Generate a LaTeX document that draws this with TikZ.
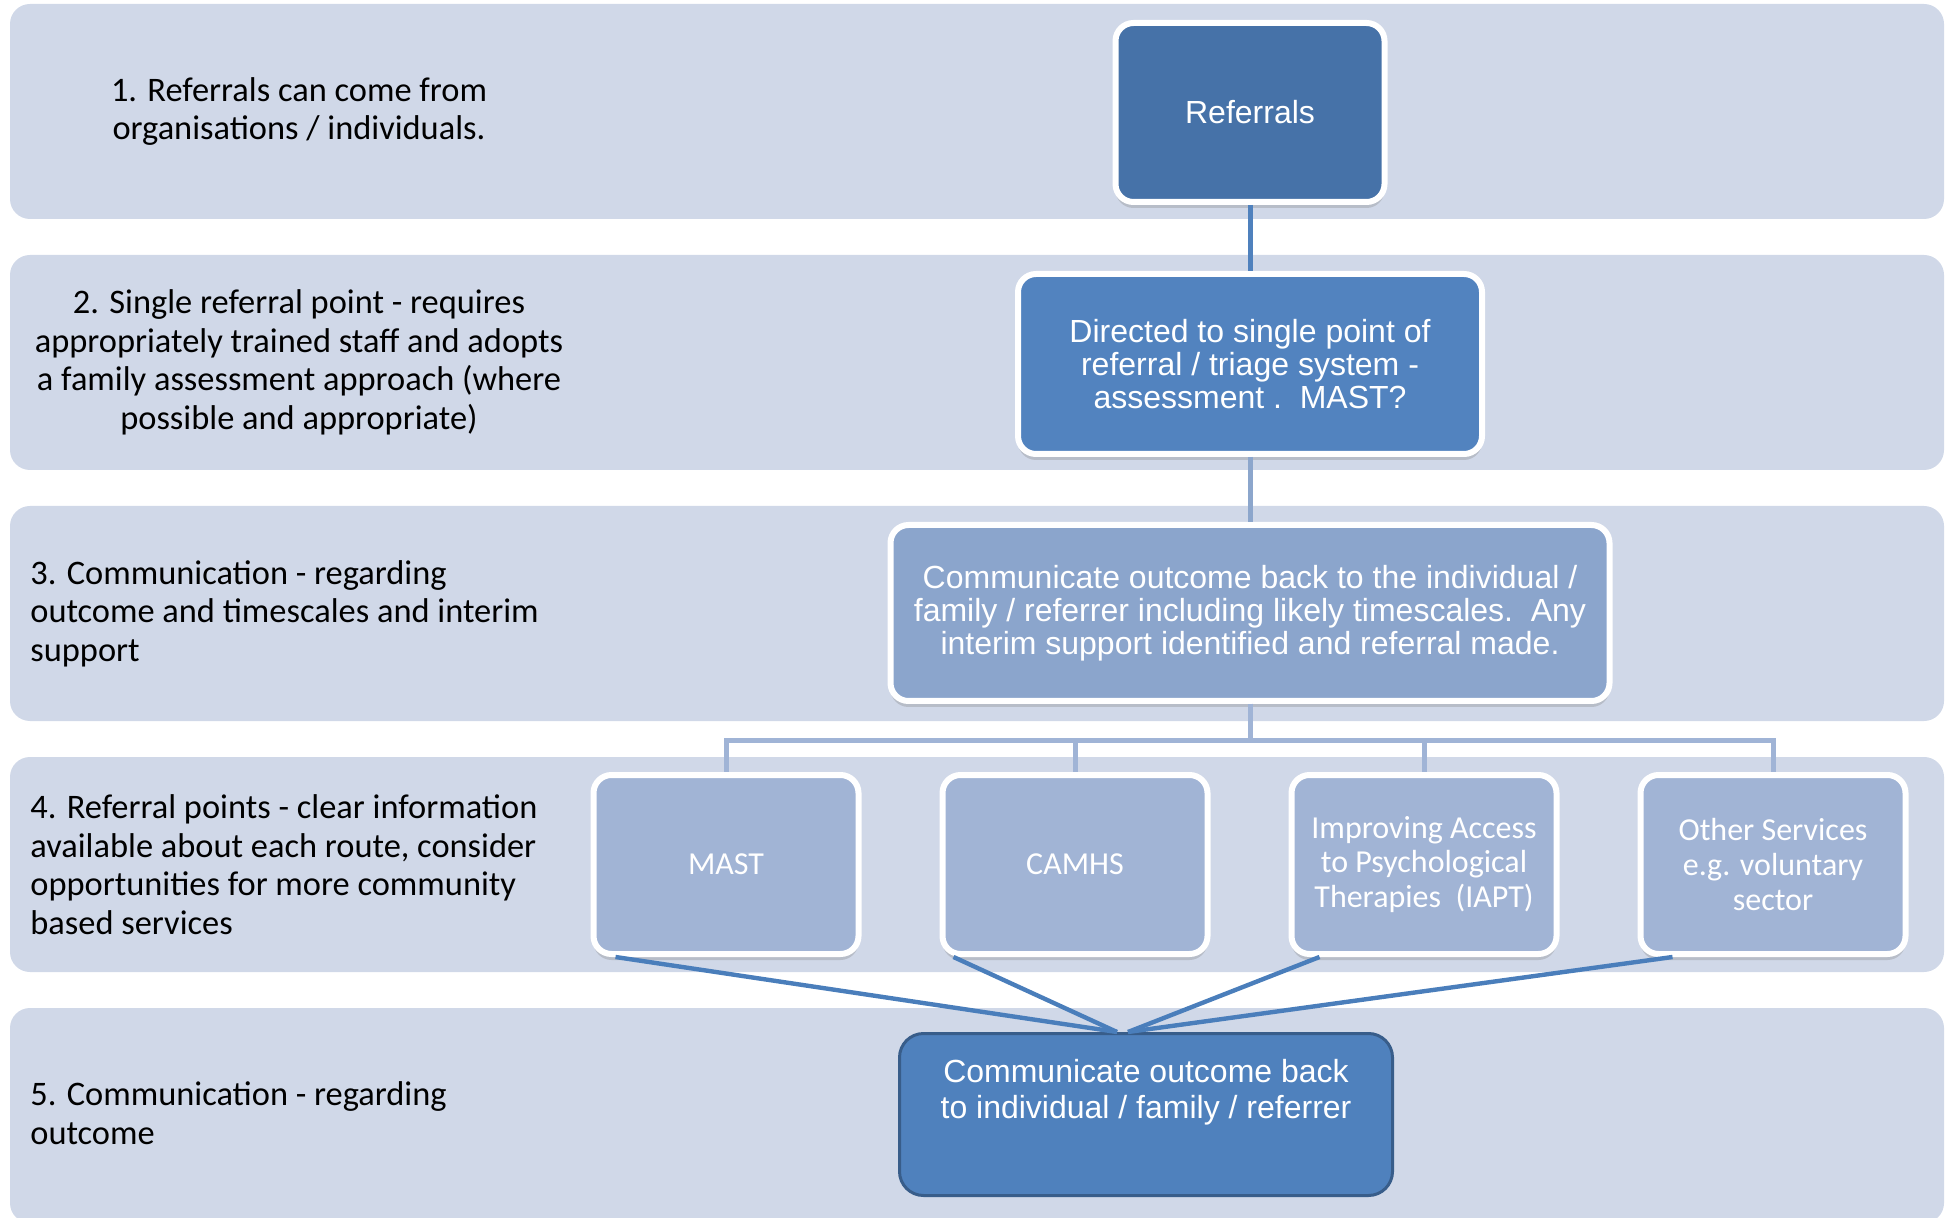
\documentclass[tikz,border=0pt]{standalone}
\usepackage{fontspec}
\setmainfont{Carlito}
\newfontfamily\arialfont{Liberation Sans}
\usepackage{tikz}
\usetikzlibrary{positioning,shadows}

\definecolor{bandfill}{HTML}{D0D8E8}
\definecolor{refblue}{HTML}{4672A8}
\definecolor{dirblue}{HTML}{5283BF}
\definecolor{commblue}{HTML}{8BA5CC}
\definecolor{svcblue}{HTML}{A1B4D5}
\definecolor{outblue}{HTML}{4F81BD}
\definecolor{outline}{HTML}{385D8A}
\definecolor{commline}{HTML}{8CA6CC}
\definecolor{treeline}{HTML}{A0B4D6}
\definecolor{fanblue}{HTML}{4A7EBB}

\begin{document}
\begin{tikzpicture}[
x=0.5pt, y=-0.5pt,
band/.style={
  draw=none,
  fill=bandfill,
  rounded corners=10pt,
  minimum width=967pt,
  minimum height=107.5pt
  },
note/.style={
  inner sep=0pt,
  font=\fontsize{17.2pt}{19.25pt}\selectfont
  },
box/.style={
  draw=white,
  line width=3pt,
  rounded corners=9pt,
  text=white,
  align=center,
  inner sep=2pt,
  font=\arialfont\fontsize{16pt}{16.5pt}\selectfont,
  drop shadow={shadow xshift=0pt, shadow yshift=-3pt, opacity=0.3}
  },
svc/.style={
  box,
  fill=svcblue,
  minimum width=132.5pt,
  minimum height=89.5pt,
  font=\rmfamily\fontsize{16pt}{17.4pt}\selectfont
  },
outbox/.style={
  draw=outline,
  fill=outblue,
  line width=1.5pt,
  rounded corners=12pt,
  text=white,
  inner sep=0pt,
  minimum width=246.5pt,
  minimum height=81pt,
  font=\arialfont\fontsize{16pt}{18pt}\selectfont
  },
link/.style={line width=2.5pt},
tree/.style={draw=treeline, line width=2.5pt},
fan/.style={draw=fanblue, line width=2.2pt},
>=latex
]
\useasboundingbox (0,0) rectangle (1948,1218);

\foreach \i in {1,...,5}
  \node[band] (b\i) at (977,{111.5+251*(\i-1)}) {};

\node[note, align=center] (t1) at (299,111.5)
  {1. Referrals can come from\\organisations / individuals.};
\node[note, align=center] (t2) at (299,362.5)
  {2. Single referral point - requires\\appropriately trained staff and adopts\\a family assessment approach (where\\possible and appropriate)};
\node[note, align=left, anchor=west] (t3) at (30,613.5)
  {3. Communication - regarding\\outcome and timescales and interim\\support};
\node[note, align=left, anchor=west] (t4) at (30,864.5)
  {4. Referral points - clear information\\available about each route, consider\\opportunities for more community\\based services};
\node[note, align=left, anchor=west] (t5) at (30,1113)
  {5. Communication - regarding\\outcome};

\node[box, fill=refblue, minimum width=134.5pt, minimum height=89.5pt] (ref) at (1250,112.5)
  {Referrals};
\node[box, fill=dirblue, minimum width=232pt, minimum height=90pt] (dir) at (1250,364)
  {Directed to single point of\\referral / triage system -\\assessment .\ \ MAST?};
\node[box, fill=commblue, minimum width=359.5pt, minimum height=88pt] (comm) at (1250,613)
  {Communicate outcome back to the individual /\\family / referrer including likely timescales.\ \ Any\\interim support identified and referral made.};

\foreach \i/\txt in {1/MAST, 2/CAMHS, 3/{Improving Access\\to Psychological\\Therapies\ \ (IAPT)}, 4/{Other Services\\e.g. voluntary\\sector}}
  \node[svc] (s\i) at ({726+349*(\i-1)},864.5) {\txt};

\node[outbox] (out) at (1146,1114.5)
  {\parbox[c][55pt][t]{240pt}{\centering Communicate outcome back\\to individual / family / referrer}};

\draw[link, draw=outblue] (ref) -- (dir);
\draw[link, draw=commline] (dir) -- (comm);

\foreach \i in {1,...,4}
  \draw[tree] (comm.south) -- ++(0,36) -| (s\i.north);

\foreach \i/\a/\b in {1/12.5/-14.5, 2/7/-14.5, 3/15.5/-9, 4/17.5/-9}
  \draw[fan] ([xshift=\a pt]s\i.south west) -- ([xshift=\b pt]out.north);

\end{tikzpicture}
\end{document}
